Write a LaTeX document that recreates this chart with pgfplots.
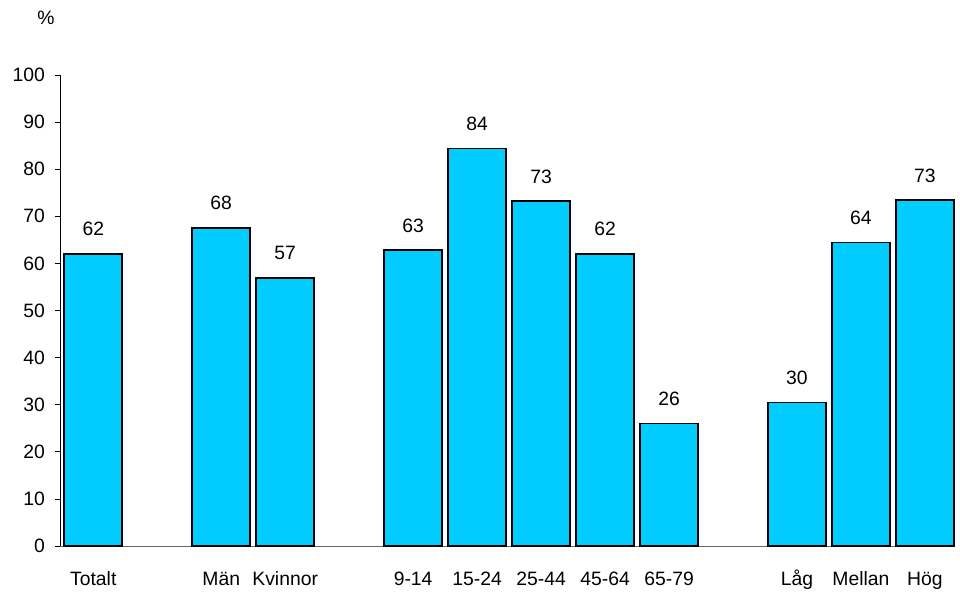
\documentclass[border=0pt]{standalone}
\usepackage{pgfplots}
\pgfplotsset{compat=1.18}
\usepackage{pgfplotstable}
\usepackage{fontspec}
\setmainfont{Liberation Sans}
\definecolor{barc}{HTML}{00CCFF}
\pgfplotstableread{
x y lab
0 62.0 62
2 67.5 68
3 56.9 57
5 62.8 63
6 84.4 84
7 73.2 73
8 62.0 62
9 26.0 26
11 30.5 30
12 64.4 64
13 73.4 73
}\datatab
\begin{document}
\begin{tikzpicture}
\path[use as bounding box] (0pt,0pt) rectangle (720pt,450.75pt);
\begin{axis}[
  at={(45pt,41.25pt)}, anchor=south west,
  scale only axis,
  width=671.25pt, height=353.25pt,
  xmin=-0.52, xmax=13.47,
  ymin=0, ymax=100,
  ytick={0,10,...,100},
  xtick={0,2,3,5,6,7,8,9,11,12,13},
  xticklabels={Totalt,Män,Kvinnor,9-14,15-24,25-44,45-64,65-79,Låg,Mellan,Hög},
  axis x line=bottom, axis y line=left,
  axis line style={-},
  x axis line style={draw=gray!80!black},
  y axis line style={draw=black},
  xtick style={draw=none},
  ytick style={draw=black, line width=0.6pt},
  tick align=outside,
  major tick length=3.75pt,
  tick label style={font=\fontsize{14.5}{16}\selectfont},
  /pgf/number format/assume math mode=true,
  xticklabel style={text height=10pt, text depth=3pt, yshift=-12.5pt},
  yticklabel style={xshift=-4pt},
  clip=false,
]
\addplot[ybar, bar width=0.906, fill=barc, draw=black, line width=1.2pt,
  point meta=explicit symbolic,
  nodes near coords,
  nodes near coords style={font=\fontsize{14.5}{16}\selectfont, anchor=south, yshift=9.5pt, text=black}
] table[x=x, y=y, meta=lab] {\datatab};
\end{axis}
\node[font=\fontsize{14.5}{16}\selectfont] at (34.5pt,437pt) {\%};
\end{tikzpicture}
\end{document}
